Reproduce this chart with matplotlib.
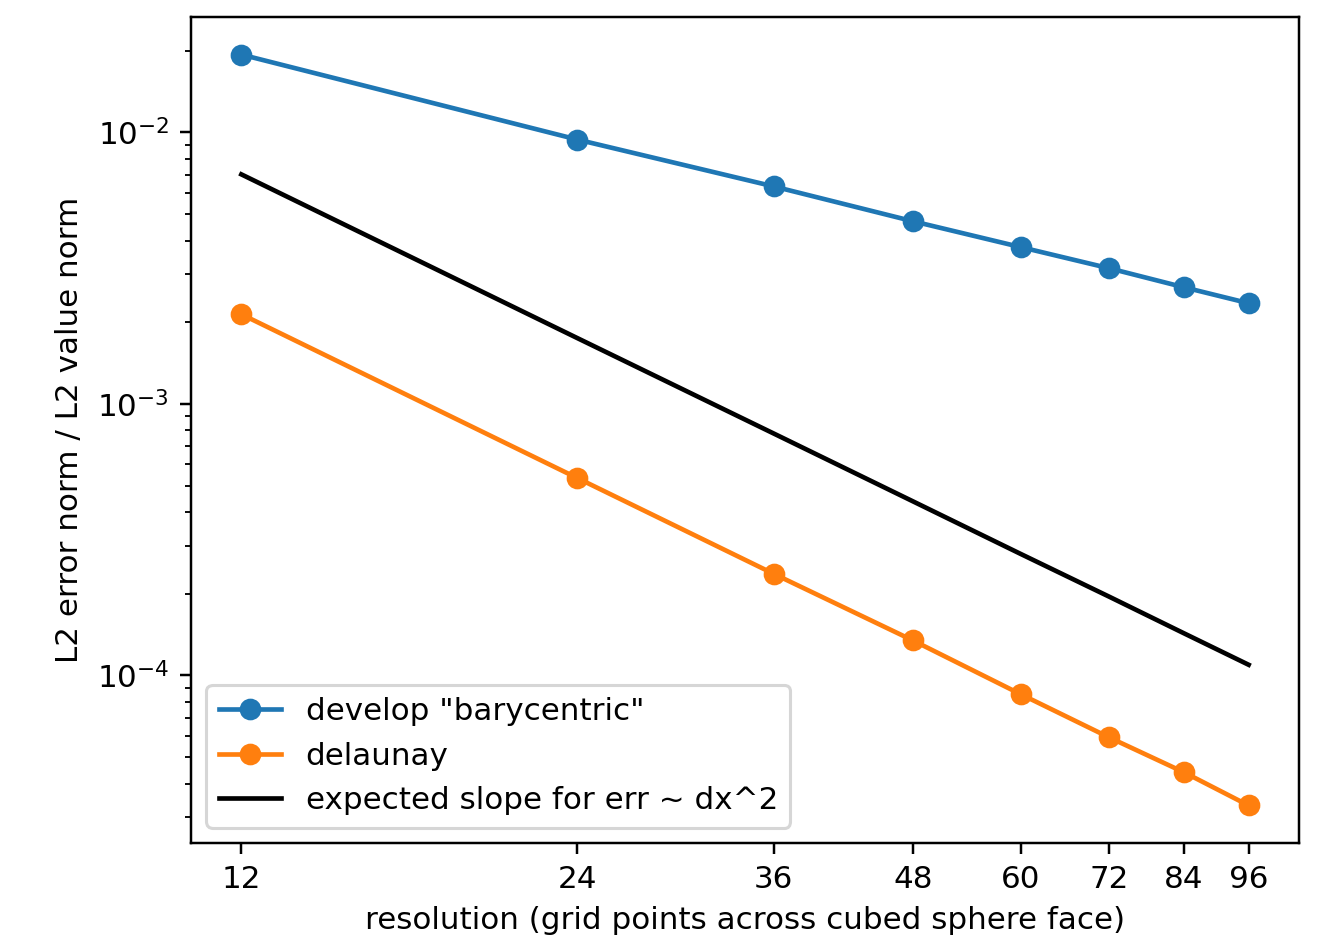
import matplotlib
matplotlib.use("Agg")
import matplotlib.pyplot as plt
from matplotlib.ticker import NullLocator, FixedLocator

resolution = [12, 24, 36, 48, 60, 72, 84, 96]
tick_labels = ["12", "24", "36", "48", "60", "72", "84", "96"]
barycentric = [0.01936, 0.00942, 0.00633, 0.00471, 0.00378, 0.00316, 0.00269, 0.00235]
delaunay = [0.00214, 0.000534, 0.000237, 0.0001346, 8.52e-05, 5.91e-05, 4.40e-05, 3.32e-05]
expected = [0.00701, 0.00175, 0.000779, 0.000438, 0.000280, 0.000195, 0.000143, 0.0001095]

DPI = 223
fig = plt.figure(figsize=(1318 / DPI, 941 / DPI), dpi=DPI)
ax = fig.add_axes([0.1449, 0.1041, 0.8407, 0.8778])

ax.plot(resolution, barycentric, "o-", label='develop "barycentric"')
ax.plot(resolution, delaunay, "o-", label="delaunay")
ax.plot(resolution, expected, "k-", label="expected slope for err ~ dx^2")
ax.set_xscale("log")
ax.set_yscale("log")
ax.xaxis.set_major_locator(FixedLocator(resolution))
ax.xaxis.set_minor_locator(NullLocator())
ax.set_xticklabels(tick_labels)
ax.set_xlabel("resolution (grid points across cubed sphere face)")
ax.set_ylabel("L2 error norm / L2 value norm")
ax.legend(loc="lower left")

fig.savefig("out.png", dpi=DPI)
